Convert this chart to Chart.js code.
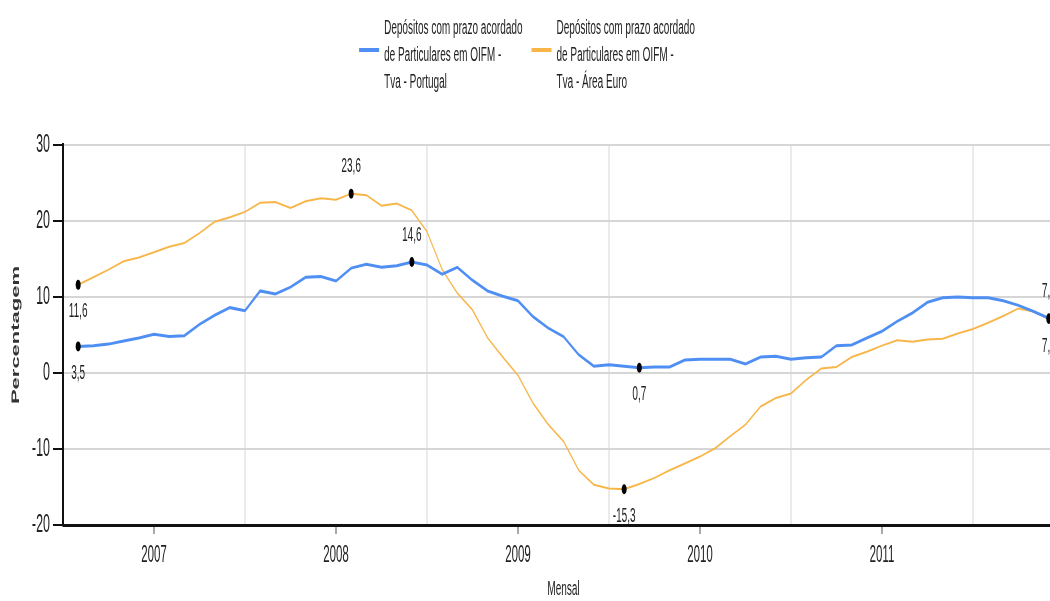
<!DOCTYPE html>
<html>
<head>
<meta charset="utf-8">
<script src="https://cdn.jsdelivr.net/npm/chart.js@4.4.1/dist/chart.umd.min.js"></script>
<style>
    html, body { margin: 0; padding: 0; background: #fff; overflow: hidden; }
    /* the reference is drawn twice as wide and squeezed to half width */
    #wrap { width: 2140px; height: 601px; transform: scaleX(0.5); transform-origin: 0 0; }
</style>
</head>
<body>
<div id="wrap"><canvas id="chart"></canvas></div>
<script>
// Series names (legend, three lines each)
const namePortugal = ['Depósitos com prazo acordado', 'de Particulares em OIFM -', 'Tva - Portugal'];
const nameEuro = ['Depósitos com prazo acordado', 'de Particulares em OIFM -', 'Tva - Área Euro'];

// Monthly, Aug 2006 .. Dec 2011
const firstMonth = 1;   // months after Jul 2006
const portugal = [
    3.5, 3.6, 3.8, 4.2, 4.6, 5.1, 4.8, 4.9, 6.4, 7.6, 8.6, 8.2,
    10.8, 10.4, 11.3, 12.6, 12.7, 12.1, 13.8, 14.3, 13.9, 14.1, 14.6, 14.2,
    13.0, 13.9, 12.2, 10.8, 10.1, 9.5, 7.4, 5.9, 4.8, 2.4, 0.9, 1.1,
    0.9, 0.7, 0.8, 0.8, 1.7, 1.8, 1.8, 1.8, 1.2, 2.1, 2.2, 1.8,
    2.0, 2.1, 3.6, 3.7, 4.6, 5.5, 6.8, 7.9, 9.3, 9.9, 10.0, 9.9,
    9.9, 9.5, 8.9, 8.1, 7.2
];
const areaEuro = [
    11.6, 12.6, 13.6, 14.7, 15.2, 15.9, 16.6, 17.1, 18.4, 19.9, 20.5, 21.2,
    22.4, 22.5, 21.7, 22.6, 23.0, 22.8, 23.6, 23.4, 22.0, 22.3, 21.4, 18.6,
    13.6, 10.5, 8.3, 4.6, 2.1, -0.3, -4.0, -6.8, -9.0, -12.8, -14.7, -15.2,
    -15.3, -14.6, -13.8, -12.8, -11.9, -11.0, -9.9, -8.3, -6.8, -4.4, -3.3, -2.7,
    -0.9, 0.6, 0.8, 2.1, 2.8, 3.6, 4.3, 4.1, 4.4, 4.5, 5.2, 5.8,
    6.6, 7.5, 8.5, 8.1, 7.1
];
const years = ['2007', '2008', '2009', '2010', '2011'];
const yTicks = [-20, -10, 0, 10, 20, 30];

const BLUE = '#4f8ff3';
const ORANGE = '#f8b548';
const FONT = '"Liberation Sans", Arial, sans-serif';

const fmt = v => v.toFixed(1).replace('.', ',');

// first, max, min and last value get a dot and a label
function markedPoints(vals, lastAbove) {
    const max = vals.indexOf(Math.max(...vals));
    const min = vals.indexOf(Math.min(...vals));
    return [
        { index: 0, above: false },
        { index: max, above: true },
        { index: min, above: false },
        { index: vals.length - 1, above: lastAbove }
    ];
}

function makeDataset(lines, vals, color, width, lastAbove) {
    const marks = markedPoints(vals, lastAbove);
    const idx = marks.map(m => m.index);
    return {
        label: lines.join(' '),
        legendLines: lines,
        marks: marks,
        data: vals.map((v, i) => ({ x: firstMonth + i, y: v })),
        borderColor: color,
        borderWidth: width,
        tension: 0,
        pointRadius: c => idx.includes(c.dataIndex) ? 5 : 0,
        pointBackgroundColor: '#000',
        pointBorderWidth: 0,
        clip: false
    };
}

const valueLabels = {
    id: 'valueLabels',
    afterDatasetsDraw(chart) {
        const ctx = chart.ctx;
        ctx.save();
        ctx.font = '20px ' + FONT;
        ctx.fillStyle = '#222';
        ctx.textAlign = 'center';
        ctx.textBaseline = 'middle';
        chart.data.datasets.forEach((ds, di) => {
            const meta = chart.getDatasetMeta(di);
            ds.marks.forEach(m => {
                const pt = meta.data[m.index];
                ctx.fillText(fmt(ds.data[m.index].y), pt.x, pt.y + (m.above ? -27 : 27));
            });
        });
        ctx.restore();
    }
};

const legendBlock = {
    id: 'legendBlock',
    afterDraw(chart) {
        const ctx = chart.ctx;
        ctx.save();
        ctx.font = '20px ' + FONT;
        ctx.fillStyle = '#222';
        ctx.textAlign = 'left';
        ctx.textBaseline = 'alphabetic';
        const swatch = 40, gap = 10, itemGap = 18, lineH = 27;
        const items = chart.data.datasets.map(ds => ({
            lines: ds.legendLines,
            color: ds.borderColor,
            w: Math.max(...ds.legendLines.map(l => ctx.measureText(l).width))
        }));
        const total = items.reduce((s, it) => s + swatch + gap + it.w, 0) + itemGap * (items.length - 1);
        let x = 1054 - total / 2;
        items.forEach(it => {
            ctx.strokeStyle = it.color;
            ctx.lineWidth = 4;
            ctx.beginPath();
            ctx.moveTo(x, 50);
            ctx.lineTo(x + swatch, 50);
            ctx.stroke();
            it.lines.forEach((l, i) => ctx.fillText(l, x + swatch + gap, 34 + i * lineH));
            x += swatch + gap + it.w + itemGap;
        });
        ctx.restore();
    }
};

new Chart(document.getElementById('chart'), {
    type: 'line',
    data: {
        datasets: [
            makeDataset(namePortugal, portugal, BLUE, 3, true),
            makeDataset(nameEuro, areaEuro, ORANGE, 2, false)
        ]
    },
    options: {
        responsive: true,
        maintainAspectRatio: false,
        animation: false,
        devicePixelRatio: 1,
        layout: { padding: { top: 145, right: 12, left: 0, bottom: 0 } },
        plugins: {
            legend: { display: false },
            tooltip: { enabled: false }
        },
        scales: {
            x: {
                type: 'linear',
                min: 0,
                max: 66,
                afterBuildTicks: s => {
                    // Jan ticks carry the year, Jul ticks carry a grid line
                    const t = [];
                    for (let v = 0; v <= 60; v += 6) t.push({ value: v });
                    s.ticks = t;
                },
                afterFit: s => { s.height = 76; },
                grid: {
                    color: c => (c.tick && c.tick.value % 12 === 0 && c.tick.value > 0) ? '#d6d6d6' : 'rgba(0,0,0,0)',
                    tickColor: c => (c.tick && c.tick.value % 12 === 6) ? '#555' : 'rgba(0,0,0,0)',
                    lineWidth: 2,
                    tickWidth: 2,
                    tickLength: 9
                },
                border: { display: true, color: '#111', width: 3 },
                ticks: {
                    autoSkip: false,
                    maxRotation: 0,
                    padding: 8,
                    color: '#222',
                    font: { family: FONT, size: 23 },
                    callback: v => v % 12 === 6 ? years[(v - 6) / 12] : ''
                },
                title: {
                    display: true,
                    text: 'Mensal',
                    color: '#222',
                    font: { family: FONT, size: 20 },
                    padding: { top: 0, bottom: 0 }
                }
            },
            y: {
                min: -20,
                max: 30,
                afterBuildTicks: s => { s.ticks = yTicks.map(v => ({ value: v })); },
                afterFit: s => { s.width = 126; },
                grid: {
                    color: '#d6d6d6',
                    lineWidth: 2,
                    tickColor: '#111',
                    tickWidth: 2,
                    tickLength: 20
                },
                border: { display: true, color: '#111', width: 4 },
                ticks: {
                    padding: 6,
                    color: '#222',
                    font: { family: FONT, size: 25 }
                },
                title: {
                    display: true,
                    text: 'Percentagem',
                    color: '#333',
                    font: { family: FONT, size: 22, weight: 'bold' },
                    padding: { top: 19, bottom: 19 }
                }
            }
        }
    },
    plugins: [valueLabels, legendBlock]
});
</script>
</body>
</html>
